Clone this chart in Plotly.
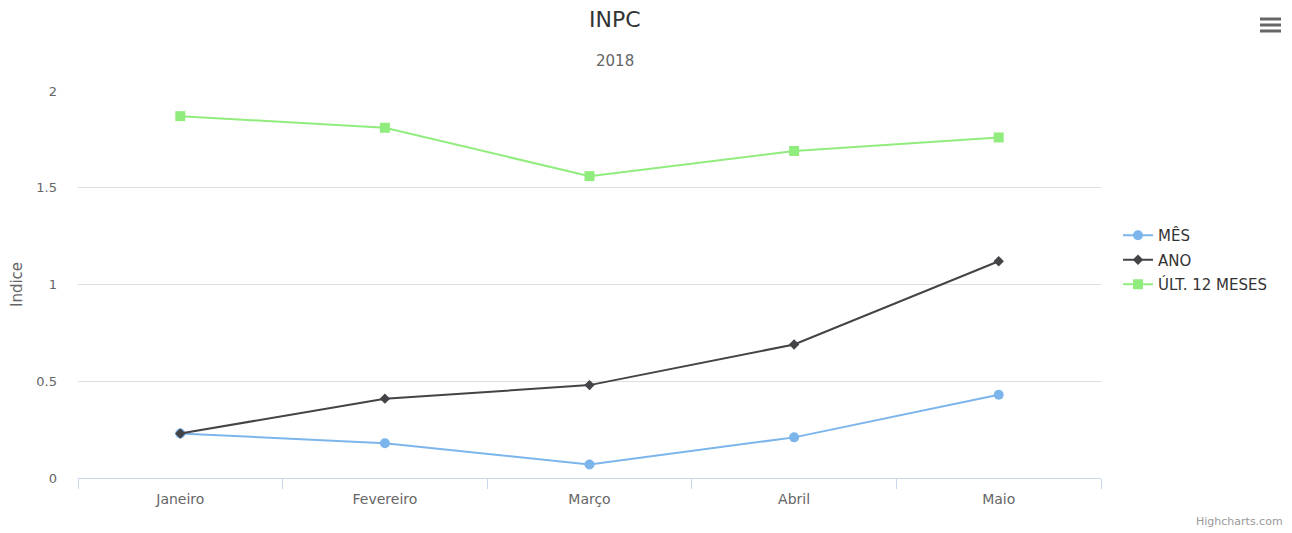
import plotly.graph_objects as go

categories = ["Janeiro", "Fevereiro", "Março", "Abril", "Maio"]
mes = [0.23, 0.18, 0.07, 0.21, 0.43]
ano = [0.23, 0.41, 0.48, 0.69, 1.12]
ult12 = [1.87, 1.81, 1.56, 1.69, 1.76]
y_ticks = [0, 0.5, 1, 1.5, 2]
y_ticktext = ["0", "0.5", "1", "1.5", "2"]

FONT = "DejaVu Sans, sans-serif"
# page pixel geometry (the page body adds an 8px offset)
OFF = 8
W, H = 1292, 533
PL, PR, PT, PB = 78, 1101, 91, 478  # plot area in page pixels

fw, fh = W - OFF, H - OFF
ml = PL - OFF
mt = PT - OFF
pw = PR - PL
ph = PB - PT
mr = fw - ml - pw
mb = fh - mt - ph

def px_x(x):
    return (x - PL) / pw

def px_y(y):
    return (PB - y) / ph

fig = go.Figure()
fig.add_trace(go.Scatter(x=categories, y=mes, name="MÊS", mode="lines+markers",
                         legendgroup="a",
                         line=dict(color="#7cb5ec", width=2),
                         marker=dict(symbol="circle", size=10, color="#7cb5ec")))
fig.add_trace(go.Scatter(x=categories, y=ano, name="ANO", mode="lines+markers",
                         legendgroup="b",
                         line=dict(color="#434348", width=2),
                         marker=dict(symbol="diamond", size=8, color="#434348")))
fig.add_trace(go.Scatter(x=categories, y=ult12, name="ÚLT. 12 MESES", mode="lines+markers",
                         legendgroup="c",
                         line=dict(color="#90ed7d", width=2),
                         marker=dict(symbol="square", size=10, color="#90ed7d")))

shapes = []
for yy in (19, 25, 31):
    shapes.append(dict(type="line", xref="paper", yref="paper",
                       x0=px_x(1260), x1=px_x(1281), y0=px_y(yy), y1=px_y(yy),
                       line=dict(color="#666666", width=3)))

annotations = [
    dict(text="INPC", xref="paper", yref="paper", x=px_x(615), y=px_y(20),
         xanchor="center", yanchor="middle", showarrow=False,
         font=dict(size=22, color="#333333", family=FONT)),
    dict(text="2018", xref="paper", yref="paper", x=px_x(615), y=px_y(61),
         xanchor="center", yanchor="middle", showarrow=False,
         font=dict(size=15, color="#666666", family=FONT)),
    dict(text="Indice", xref="paper", yref="paper", x=px_x(17), y=px_y(285),
         xanchor="center", yanchor="middle", showarrow=False, textangle=-90,
         font=dict(size=15, color="#666666", family=FONT)),
    dict(text="Highcharts.com", xref="paper", yref="paper",
         x=px_x(1285), xanchor="right", y=px_y(521), yanchor="middle",
         showarrow=False, font=dict(size=11, color="#999999", family=FONT)),
]

fig.update_layout(
    width=fw, height=fh,
    margin=dict(l=ml, r=mr, t=mt, b=mb),
    paper_bgcolor="white", plot_bgcolor="white",
    font=dict(family=FONT, color="#333333"),
    xaxis=dict(type="category", range=[-0.5, 4.5], showgrid=False,
               showline=True, linecolor="#ccd6eb", linewidth=1,
               ticks="outside", tickson="boundaries", ticklen=10, tickcolor="#ccd6eb",
               ticklabelstandoff=8,
               tickfont=dict(size=14, color="#666666", family=FONT), fixedrange=True),
    yaxis=dict(range=[0, 2], tickvals=y_ticks, ticktext=y_ticktext,
               showgrid=True, gridcolor="#dedede", gridwidth=1, zeroline=False,
               showline=False, ticks="", ticklabelstandoff=20,
               tickfont=dict(size=13, color="#666666", family=FONT),
               fixedrange=True),
    legend=dict(x=px_x(1118), xanchor="left", y=px_y(260), yanchor="middle",
                font=dict(size=15, color="#333333", family=FONT),
                traceorder="grouped", tracegroupgap=2,
                itemwidth=30, bgcolor="rgba(0,0,0,0)"),
    shapes=shapes,
    annotations=annotations,
    hovermode="x",
)

fig.write_html("out.html")
